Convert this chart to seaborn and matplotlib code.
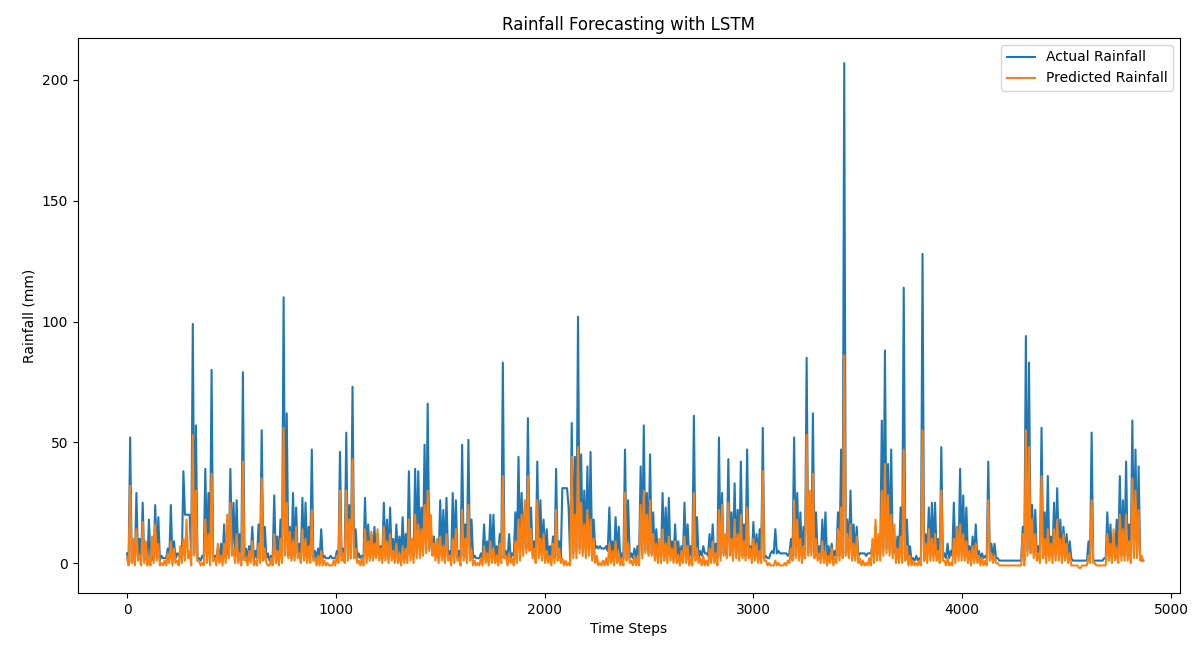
import numpy as np
import pandas as pd
import matplotlib
matplotlib.use("Agg")
import matplotlib.pyplot as plt
import seaborn as sns

# Rainfall (mm) in blocks of 15 time steps: the wet reading that opens each
# block and the dry-day reading that follows it half a block later.
actual_rainfall = [
    4, 52, 6, 29, 10, 25, 7, 18, 5, 24, 19, 3, 2, 6, 24, 9, 4, 5, 38, 20,
    20, 99, 57, 2, 3, 39, 29, 80, 3, 6,
    8, 16, 10, 39, 25, 26, 12, 79, 6, 7, 15, 5, 16, 55, 15, 4, 3, 28, 11, 18,
    110, 62, 15, 29, 23, 8, 27, 25, 15, 47, 5, 6,
    14, 3, 2, 3, 2, 5, 46, 6, 54, 24, 73, 14, 4, 3, 27, 16, 12, 15, 12, 7,
    25, 18, 23, 10, 16, 11, 19, 12, 38, 7, 39, 38,
    23, 49, 66, 14, 11, 6, 26, 22, 27, 5, 29, 26, 5, 49, 16, 51, 18, 3, 2, 4,
    16, 9, 20, 20, 7, 12, 83, 5, 12, 4, 21, 44,
    29, 22, 60, 23, 9, 42, 26, 18, 14, 7, 11, 39, 9, 31, 31, 23, 58, 44, 102, 45,
    30, 40, 46, 18, 7, 7, 6, 7, 23, 9, 19, 15,
    4, 47, 26, 4, 6, 7, 40, 57, 29, 45, 21, 14, 8, 29, 23, 27, 9, 16, 9, 7,
    25, 16, 7, 61, 19, 5, 7, 4, 12, 16, 8, 52,
    29, 8, 43, 21, 33, 22, 42, 16, 47, 7, 17, 12, 14, 56, 3, 2, 5, 14, 5, 4,
    4, 3, 10, 52, 29, 21, 15, 85, 27, 62, 21, 7,
    18, 21, 7, 8, 5, 21, 47, 207, 18, 30, 16, 15, 4, 4, 3, 4, 7, 15, 7, 59,
    88, 41, 47, 7, 11, 23, 114, 18, 7, 2, 3, 2,
    128, 12, 23, 25, 25, 10, 48, 4, 8, 5, 25, 15, 39, 28, 23, 7, 11, 16, 5, 4,
    3, 42, 8, 8, 2, 1, 1, 1, 1, 1, 1, 1,
    15, 94, 83, 24, 22, 7, 56, 21, 36, 11, 25, 31, 18, 15, 12, 9, 1, 1, 1, 1,
    1, 9, 54, 1, 1, 1, 2, 21, 16, 10, 18, 36, 26, 42, 16, 59, 47, 40, 1,
]

actual_dry = [
    0, 1, 0, 2, 1, 1, 0, 1, 1, 2, 1, 2, 2, 2, 1, 2, 3, 2, 20, 20,
    3, 4, 1, 1, 2, 3, 2, 1, 2, 1,
    1, 2, 3, 4, 3, 2, 1, 2, 2, 3, 1, 2, 1, 3, 2, 1,
    1, 2, 1, 3, 4, 3, 2, 3, 4, 3, 2, 3, 3, 2, 2, 2,
    2, 2, 2, 2, 2, 2, 3, 2, 3, 2, 4, 2, 2, 2, 3, 3,
    2, 3, 2, 2, 3, 2, 3, 2, 3, 2, 3, 3, 4, 3, 5, 6,
    4, 5, 6, 5, 3, 2, 3, 2, 3, 2, 3, 2, 2, 3, 2, 2,
    2, 2, 2, 2, 2, 3, 2, 2, 3, 2, 2, 2, 2, 3, 4, 5,
    5, 6, 6, 4, 3, 4, 3, 2, 2, 2, 2, 3, 2, 31, 31, 1,
    4, 5, 6, 5, 5, 4, 3, 6, 6, 6, 6, 5, 3, 2, 3, 2,
    2, 3, 2, 2, 2, 2, 4, 5, 4, 4, 3, 3, 2, 3, 3, 3,
    2, 2, 2, 2, 3, 2, 2, 3, 2, 3, 4, 3, 3, 2, 2, 3,
    4, 3, 4, 3, 4, 3, 3, 3, 3, 2, 2, 2, 2, 2, 2, 4,
    4, 4, 4, 4, 4, 4, 3, 3, 4, 3, 3, 4, 5, 4, 3, 2,
    3, 2, 2, 2, 3, 3, 5, 4, 3, 3, 3, 3, 4, 4, 4, 4,
    3, 3, 4, 5, 6, 5, 4, 3, 3, 4, 3, 2, 1, 1, 1, 1,
    1, 3, 4, 4, 3, 2, 2, 2, 2, 3, 3, 3, 4, 3, 3, 2,
    2, 2, 2, 2, 2, 2, 2, 2, 1, 1, 1, 1, 1, 1, 1, 1,
    1, 5, 6, 4, 3, 2, 4, 3, 3, 3, 3, 4, 3, 3, 2, 2,
    1, 1, 1, 1, 1, 2, 1, 1, 1, 1, 2, 3, 2, 3, 3, 3, 3, 3, 4, 4, 3, 2, 1,
]

predicted_rainfall = [
    2, 32, 10, 14, 3, 17, 9, 2, 11, 16, 8, 0, 1, 4, 9, 6, 1, 7, 10, 18,
    5, 53, 30, 1, 0, 18, 12, 37, 2, 8,
    3, 8, 20, 25, 6, 12, 4, 42, 2, 5, 9, 1, 8, 35, 6, -1, 2, 12, 5, 10,
    56, 25, 13, 9, 15, 4, 14, 10, 7, 22, 2, 3,
    5, 1, 0, -1, 1, 3, 30, 4, 30, 18, 43, 6, 1, 2, 14, 9, 13, 8, 14, 6,
    15, 9, 12, 5, 8, 4, 7, 6, 18, 10, 20, 16,
    14, 24, 30, 20, 8, 10, 11, 7, 12, 3, 10, 14, 2, 22, 10, 24, 5, 1, 0, 2,
    7, 4, 9, 6, 3, 8, 36, 3, 4, 2, 9, 18,
    20, 26, 36, 14, 6, 26, 10, 12, 5, 3, 8, 22, 6, 2, 1, 0, 44, 20, 48, 25,
    16, 22, 18, 10, 3, 0, 1, 2, 8, 5, 9, 4,
    2, 29, 8, 1, 3, 2, 24, 30, 20, 26, 12, 8, 10, 14, 8, 11, 6, 9, 3, 5,
    11, 7, 2, 29, 6, 2, 3, 1, 6, 9, 4, 22,
    24, 12, 25, 10, 18, 12, 20, 9, 23, 6, 10, 8, 5, 38, 1, 0, -1, 1, 0, -1,
    0, 1, 6, 26, 18, 10, 7, 53, 30, 37, 10, 4,
    9, 5, 3, 6, 2, 14, 23, 86, 12, 16, 8, 11, 2, 1, 0, 2, 10, 18, 12, 30,
    41, 28, 20, 16, 6, 11, 47, 7, 3, 1, 0, 1,
    55, 8, 14, 10, 12, 5, 30, 1, 2, 0, 10, 15, 16, 12, 9, 5, 7, 8, 3, 2,
    1, 26, 4, 3, 0, -1, -1, -1, -1, -1, -1, -1,
    12, 55, 48, 18, 12, 4, 36, 10, 14, 8, 14, 18, 10, 12, 8, 4, -1, -1, -2, -1,
    -1, 3, 26, 0, -1, -1, -1, 12, 8, 14, 6, 20, 14, 20, 9, 35, 30, 22, 3,
]

predicted_dry = [
    -1, 0, -1, 1, -1, 0, -1, -1, 0, 1, -1, -1, -1, 0, -1, 0, -1, 0, 1, 2,
    -1, 3, 1, -1, -1, 0, -1, 1, -1, 0,
    -1, 0, 2, 3, 0, 0, -1, 1, -1, 0, -1, -1, 0, 1, 0, -1,
    -1, 0, -1, 0, 3, 2, 1, 1, 2, 0, 1, 0, 0, 1, -1, -1,
    -1, -1, -1, -1, -1, 0, 1, 0, 1, 2, 2, 0, -1, -1, 0, 1,
    1, 2, 1, 0, 1, 0, 1, 0, 0, -1, 0, 0, 1, 0, 2, 2,
    3, 4, 5, 3, 1, 0, 1, 0, 1, -1, 0, 1, -1, 1, 0, 1,
    -1, -1, -1, -1, 0, -1, 0, 0, -1, 0, 2, -1, 0, -1, 0, 1,
    3, 4, 5, 2, 0, 2, 1, 0, 0, -1, 0, 1, 0, -1, -1, -1,
    2, 2, 4, 3, 2, 3, 1, 0, -1, -1, -1, -1, 0, -1, 0, -1,
    -1, 1, 0, -1, -1, -1, 2, 4, 3, 3, 1, 0, 0, 1, 0, 1,
    0, 0, -1, 0, 0, -1, -1, 1, 0, -1, -1, -1, 0, 0, -1, 1,
    3, 2, 3, 1, 2, 1, 2, 1, 2, 0, 1, 0, 0, 1, -1, -1,
    -1, -1, -1, -1, -1, 0, 1, 2, 1, 0, 2, 3, 3, 2, 1, 0,
    0, -1, 0, -1, 0, 1, 2, 3, 2, 1, 1, 0, -1, -1, -1, -1,
    0, 1, 1, 3, 4, 3, 2, 0, 0, 0, 1, -1, -1, -1, -1, -1,
    1, 0, 1, 1, 1, 0, 1, -1, -1, -1, 0, 1, 1, 1, 0, -1,
    0, 0, -1, -1, -1, 1, 0, 0, -1, -1, -1, -1, -1, -1, -1, -1,
    -1, 3, 4, 2, 1, 0, 2, 0, 1, 0, 1, 1, 0, 1, 0, -1,
    -1, -1, -2, -1, -1, 0, 0, -1, -1, -1, -1, 1, 0, 1, 0, 1, 1, 1, 0, 2, 2, 1, 1,
]

BLOCK = 15
block_start = np.arange(len(actual_rainfall)) * BLOCK

df = pd.DataFrame({
    "Time Steps": np.concatenate([block_start, block_start + BLOCK / 2]),
    "Actual": np.concatenate([actual_rainfall, actual_dry]),
    "Predicted": np.concatenate([predicted_rainfall, predicted_dry]),
}).sort_values("Time Steps", ignore_index=True)

fig = plt.figure(figsize=(11.92, 6.48), dpi=100)
ax = fig.add_axes([0.0654, 0.0849, 0.9245, 0.8565])

sns.lineplot(data=df, x="Time Steps", y="Actual", ax=ax, color="#1f77b4",
             linewidth=1.5, label="Actual Rainfall", errorbar=None)
sns.lineplot(data=df, x="Time Steps", y="Predicted", ax=ax, color="#ff7f0e",
             linewidth=1.5, label="Predicted Rainfall", errorbar=None)

ax.set_xlim(-235, 5043)
ax.set_ylim(-12.4, 217.4)
ax.set_xticks([0, 1000, 2000, 3000, 4000, 5000])
ax.set_yticks([0, 50, 100, 150, 200])
ax.set_title("Rainfall Forecasting with LSTM", fontsize=12)
ax.set_xlabel("Time Steps", fontsize=10)
ax.set_ylabel("Rainfall (mm)", fontsize=10)
ax.tick_params(labelsize=10)
ax.legend(loc="upper right", fontsize=10)

fig.savefig("out.png", dpi=100)
